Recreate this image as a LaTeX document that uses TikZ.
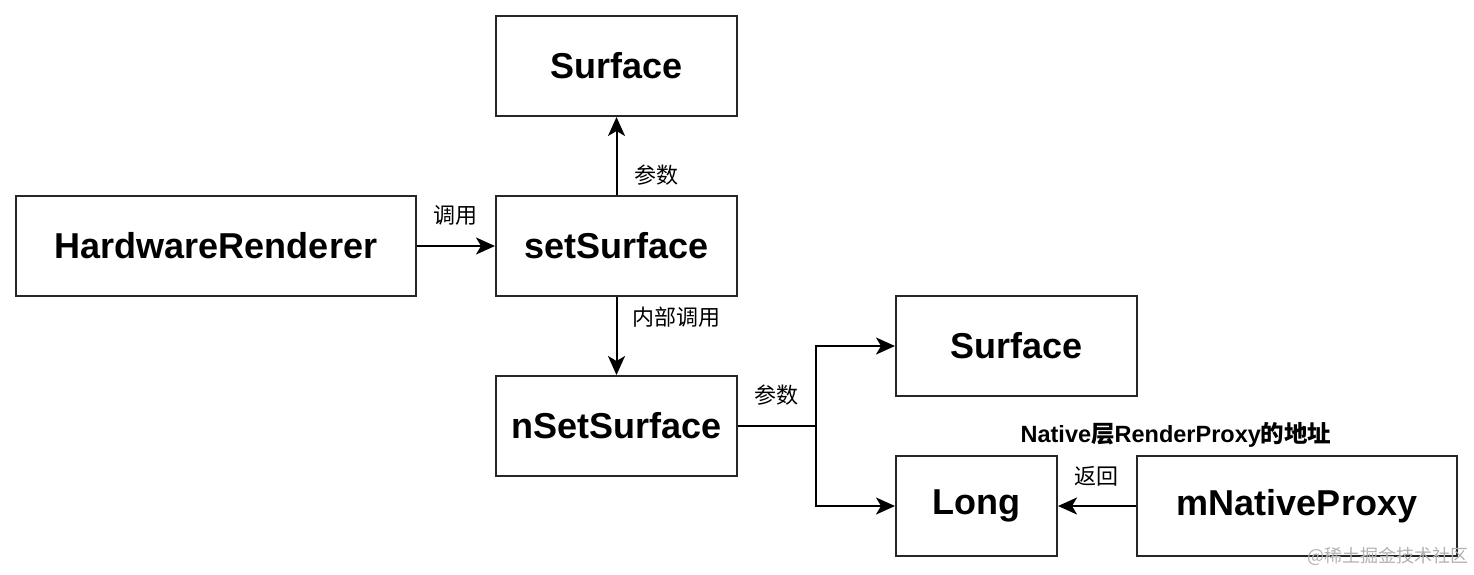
\documentclass[tikz,border=0pt]{standalone}
\usepackage{fontspec}
\setmainfont{Liberation Sans}
\newfontfamily\cjk{Noto Sans CJK SC}
\usetikzlibrary{arrows.meta}
\begin{document}
\begin{tikzpicture}[x=1pt,y=-1pt,
  box/.style={draw=black!85,line width=2pt,fill=white,inner sep=0pt,font=\fontsize{36}{40}\selectfont\bfseries},
  conn/.style={line width=2pt,-{Stealth[length=19pt,width=17pt,inset=5pt]}},
  lbl/.style={font=\cjk\fontsize{22}{24}\selectfont,inner sep=0pt}]
\useasboundingbox (0,0) rectangle (1474,574);
\fill[white] (0,0) rectangle (1474,574);
\node[box,minimum width=241pt,minimum height=100pt] (s1) at (616.5,66) {Surface};
\node[box,minimum width=400pt,minimum height=100pt] (hw) at (216,246) {HardwareRenderer};
\node[box,minimum width=241pt,minimum height=100pt] (ss) at (616.5,246) {setSurface};
\node[box,minimum width=241pt,minimum height=100pt] (ns) at (616.5,426) {nSetSurface};
\node[box,minimum width=241pt,minimum height=100pt] (s2) at (1016.5,346) {Surface};
\node[box,minimum width=161pt,minimum height=100pt] (lg) at (976.5,506) {Long};
\node[box,minimum width=320pt,minimum height=100pt] (mn) at (1297,506) {mNativeProxy};
\coordinate (j) at (816,426);
\draw[conn] (hw) -- (ss);
\draw[conn] (ss) -- (s1);
\draw[conn] (ss) -- (ns);
\draw[line width=2pt] (ns.east) -- (j);
\draw[conn] (j) |- (s2.west);
\draw[conn] (j) |- (lg.west);
\draw[conn] (mn) -- (lg);
\node[lbl] (l1) at (455,215) {调用};
\node[lbl] (l2) at (656,175) {参数};
\node[lbl] (l3) at (676,317) {内部调用};
\node[lbl] (l4) at (776,395) {参数};
\node[lbl] (l5) at (1096,476) {返回};
\node[inner sep=0pt,font=\fontsize{23.5}{26}\selectfont\bfseries] (l6) at (1176,435) {Native{\cjk\bfseries 层}RenderProxy{\cjk\bfseries 的地址}};
\node[inner sep=0pt,text=black!30,font=\cjk\fontsize{18}{22}\selectfont] (wm) at (1388,556) {@稀土掘金技术社区};
\end{tikzpicture}
\end{document}
